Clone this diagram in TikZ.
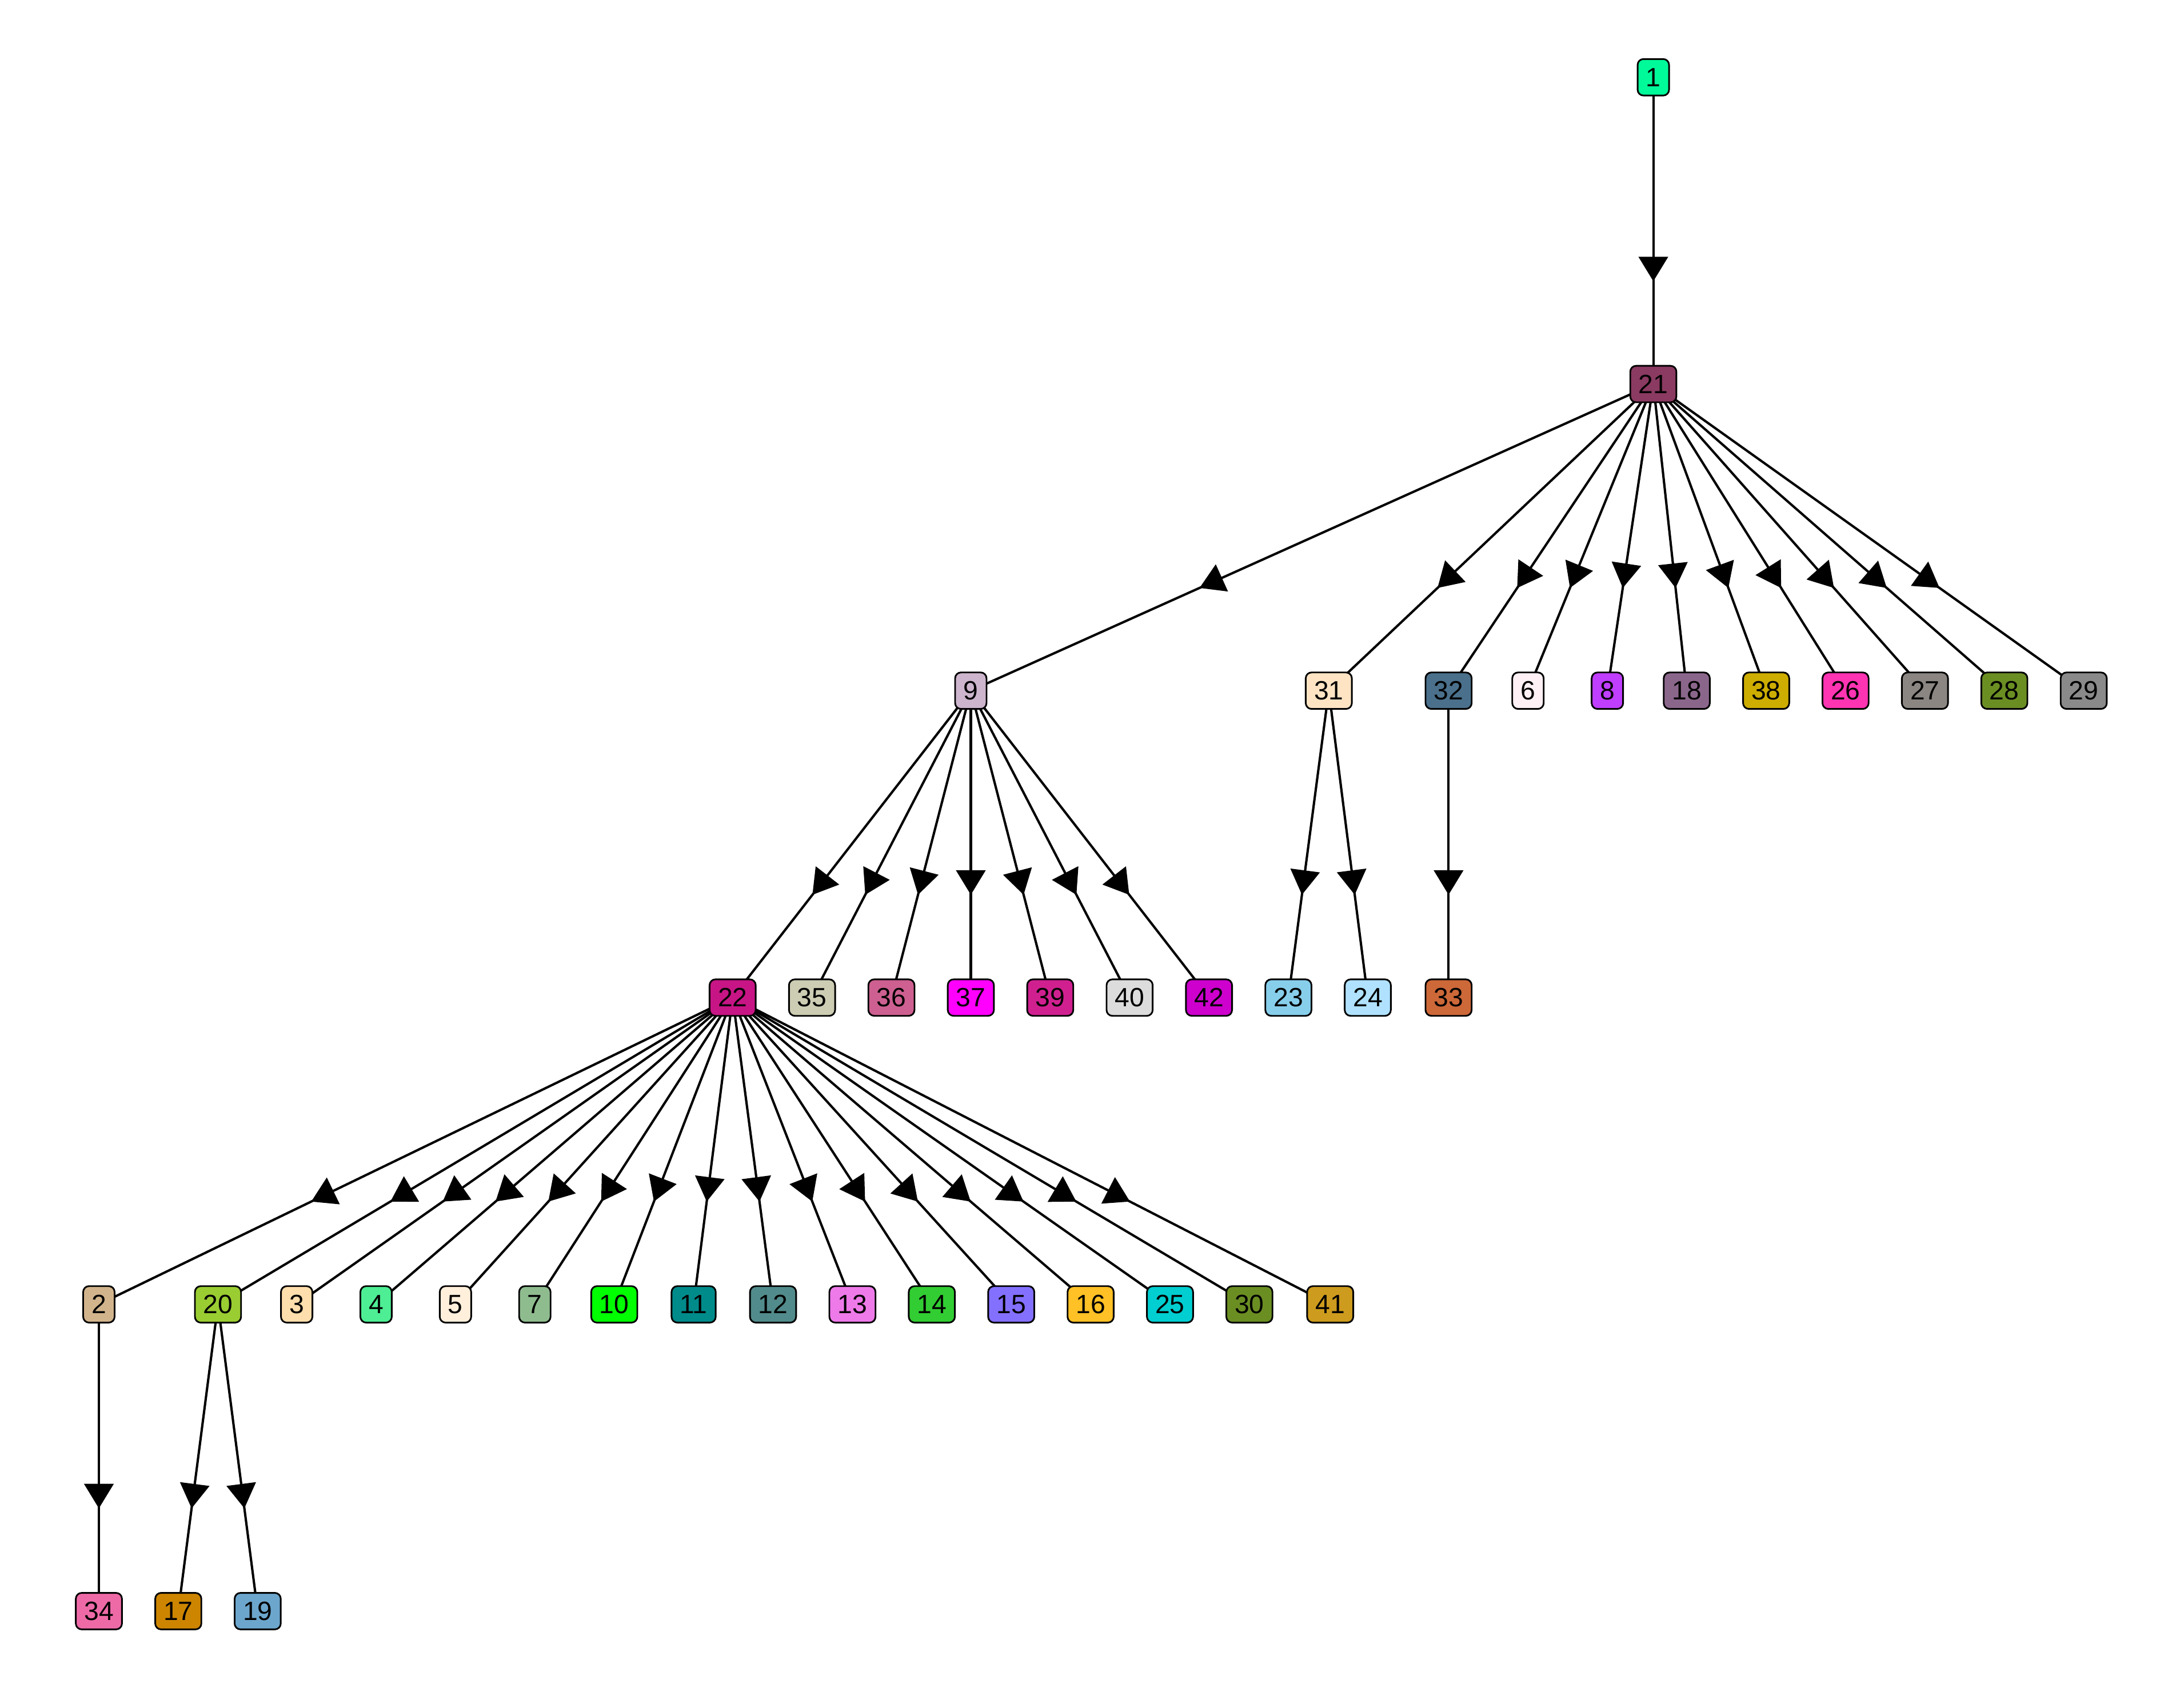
\documentclass[tikz,border=0pt]{standalone}
\usepackage{fontspec}
\setmainfont{Liberation Sans}
\usetikzlibrary{arrows.meta,decorations.markings,backgrounds}
\definecolor{c1}{HTML}{00FA9A}
\definecolor{c21}{HTML}{8B3A62}
\definecolor{c9}{HTML}{CDB5CD}
\definecolor{c31}{HTML}{FFE4C4}
\definecolor{c32}{HTML}{4A708B}
\definecolor{c6}{HTML}{FFF0F5}
\definecolor{c8}{HTML}{BF3EFF}
\definecolor{c18}{HTML}{8B668B}
\definecolor{c38}{HTML}{CDAD00}
\definecolor{c26}{HTML}{FF34B3}
\definecolor{c27}{HTML}{8B8682}
\definecolor{c28}{HTML}{6B8E23}
\definecolor{c29}{HTML}{8A8A8A}
\definecolor{c22}{HTML}{C71585}
\definecolor{c35}{HTML}{CDCDB4}
\definecolor{c36}{HTML}{CD6090}
\definecolor{c37}{HTML}{FF00FF}
\definecolor{c39}{HTML}{D02090}
\definecolor{c40}{HTML}{DCDCDC}
\definecolor{c42}{HTML}{CD00CD}
\definecolor{c23}{HTML}{87CEEB}
\definecolor{c24}{HTML}{B0E2FF}
\definecolor{c33}{HTML}{CD6839}
\definecolor{c2}{HTML}{D2B48C}
\definecolor{c20}{HTML}{9ACD32}
\definecolor{c3}{HTML}{FFDEAD}
\definecolor{c4}{HTML}{4EEE94}
\definecolor{c5}{HTML}{FFEFDB}
\definecolor{c7}{HTML}{8FBC8F}
\definecolor{c10}{HTML}{00FF00}
\definecolor{c11}{HTML}{008B8B}
\definecolor{c12}{HTML}{528B8B}
\definecolor{c13}{HTML}{EE7AE9}
\definecolor{c14}{HTML}{32CD32}
\definecolor{c15}{HTML}{8470FF}
\definecolor{c16}{HTML}{FFC125}
\definecolor{c25}{HTML}{00CED1}
\definecolor{c30}{HTML}{6B8E23}
\definecolor{c41}{HTML}{CD9B1D}
\definecolor{c34}{HTML}{EE6AA7}
\definecolor{c17}{HTML}{CD8500}
\definecolor{c19}{HTML}{6CA6CD}
\begin{document}
\begin{tikzpicture}[x=0.025cm,y=-0.025cm,
  nd/.style={draw=black, line width=0.85pt, rounded corners=3pt, inner xsep=0.15cm, inner ysep=0pt,
    minimum height=0.655cm, font=\fontsize{13.5}{15}\selectfont, text=black},
  edgeline/.style={line width=1.2pt, postaction={decorate},
    decoration={markings, mark=at position 0.665 with {\arrow{Triangle[length=0.44cm,width=0.525cm]}}}}]
\useasboundingbox (0,0) rectangle (1568,1212);
% level 0-1
\node[nd, fill=c1] (n1) at (1187,55.5) {1};
\node[nd, fill=c21] (n21) at (1187,275.8) {21};
% level 2
\foreach \n/\x in {9/697,31/954,32/1040,6/1097,8/1154,18/1211,38/1268,26/1325,27/1382,28/1439,29/1496}
  \node[nd, fill=c\n] (n\n) at (\x,496) {\n};
% level 3
\foreach \n/\x in {22/526,35/583,36/640,37/697,39/754,40/811,42/868,23/925,24/982,33/1040}
  \node[nd, fill=c\n] (n\n) at (\x,716.4) {\n};
% level 4
\foreach \n/\x in {2/71,20/156.5,3/213,4/270,5/327,7/384,10/441,11/498,12/555,13/612,14/669,15/726,16/783,25/840,30/897,41/955}
  \node[nd, fill=c\n] (n\n) at (\x,936.7) {\n};
% level 5
\foreach \n/\x in {34/71,17/128,19/185}
  \node[nd, fill=c\n] (n\n) at (\x,1157) {\n};
\begin{pgfonlayer}{background}
\foreach \a/\b in {1/21,21/9,21/31,21/32,21/6,21/8,21/18,21/38,21/26,21/27,21/28,21/29,
  9/22,9/35,9/36,9/37,9/39,9/40,9/42,31/23,31/24,32/33,
  22/2,22/20,22/3,22/4,22/5,22/7,22/10,22/11,22/12,22/13,22/14,22/15,22/16,22/25,22/30,22/41,
  2/34,20/17,20/19}
  \draw[edgeline] (n\a.center) -- (n\b.center);
\end{pgfonlayer}
\end{tikzpicture}
\end{document}
